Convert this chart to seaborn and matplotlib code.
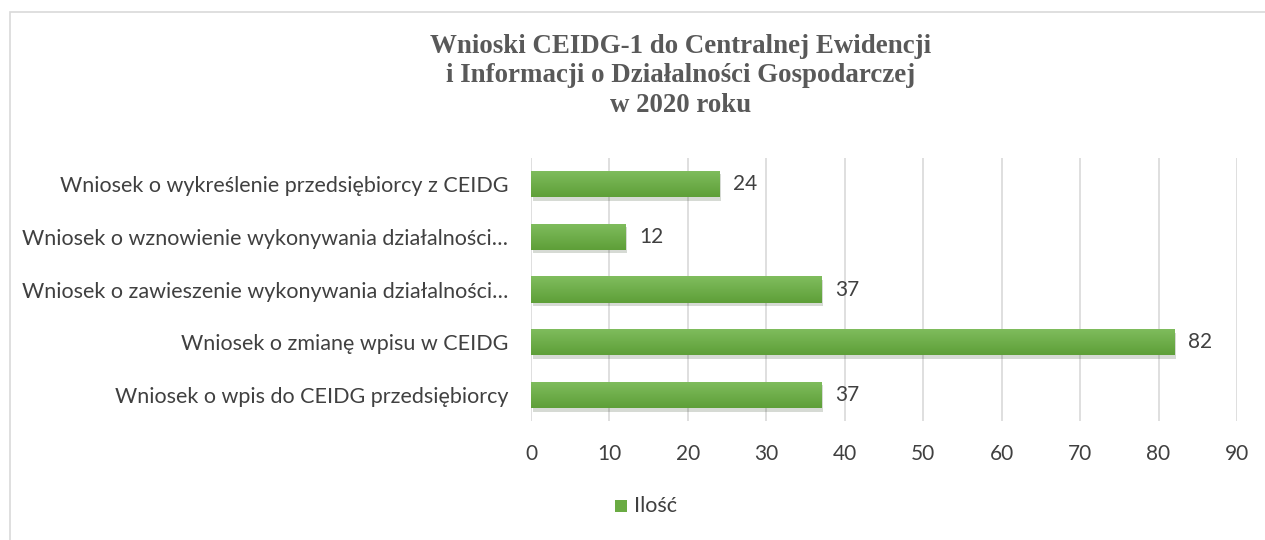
import matplotlib
matplotlib.use("Agg")
import matplotlib.pyplot as plt
import matplotlib.patheffects as pe
from matplotlib.patches import Rectangle
import numpy as np
import seaborn as sns
import pandas as pd

categories = [
    "Wniosek o wykreślenie przedsiębiorcy z CEIDG",
    "Wniosek o wznowienie wykonywania działalności…",
    "Wniosek o zawieszenie wykonywania działalności…",
    "Wniosek o zmianę wpisu w CEIDG",
    "Wniosek o wpis do CEIDG przedsiębiorcy",
]
values = [24, 12, 37, 82, 37]
series_name = "Ilość"
title = "Wnioski CEIDG-1 do Centralnej Ewidencji\ni Informacji o Działalności Gospodarczej\nw 2020 roku"
xticks = [0, 10, 20, 30, 40, 50, 60, 70, 80, 90]

df = pd.DataFrame({"cat": categories, "val": values, "series": series_name})

sns.set_theme(style="white")
plt.rcParams["font.family"] = ["Lato", "DejaVu Sans"]

green = "#6aab43"
text_col = "#404040"

fig = plt.figure(figsize=(12.65, 5.4), dpi=100)
ax = fig.add_axes([531/1265, 1-421.3/540, (1237-531)/1265, (421.3-157.7)/540])

sns.barplot(data=df, x="val", y="cat", hue="series", palette=[green],
            orient="h", width=0.5, ax=ax, legend=False, saturation=1)

ax.set_xlim(0, 90)
ax.set_ylim(len(categories) - 0.5, -0.5)

# vertical gradient (lighter top, darker bottom) clipped to each bar
grad = np.linspace(0, 1, 64).reshape(-1, 1)
cmap = matplotlib.colors.LinearSegmentedColormap.from_list("g", ["#80bd5e", "#5e9f38"])
for p in list(ax.patches):
    p.set_edgecolor("none")
    p.set_path_effects([pe.SimplePatchShadow(offset=(1.5, -2.5), alpha=0.18), pe.Normal()])
    p.set_zorder(3)
    b = p.get_bbox()
    im = ax.imshow(grad, extent=[b.x0, b.x1, b.y1, b.y0], origin="upper", cmap=cmap,
                   aspect="auto", zorder=4, interpolation="bilinear")
    im.set_clip_path(p)

ax.set_xlim(0, 90)
ax.set_ylim(len(categories) - 0.5, -0.5)

for i, v in enumerate(values):
    ax.text(v + 1.75, i, str(v), va="center", ha="left", fontsize=15, color=text_col)

ax.set_xticks(xticks)
ax.set_xticklabels([str(t) for t in xticks], fontsize=15, color=text_col)
ax.tick_params(axis="y", labelsize=15.5, labelcolor=text_col, length=0, pad=16.5)
ax.tick_params(axis="x", length=0, pad=16)
ax.set_xlabel("")
ax.set_ylabel("")
ax.grid(axis="x", color="#d9d9d9", linewidth=1.2, zorder=0)
ax.set_axisbelow(True)
for s in ax.spines.values():
    s.set_visible(False)

fig.text(681/1265, 1-76/540, title, ha="center", va="center", fontsize=19.4,
         fontweight="bold", family=["Liberation Serif", "DejaVu Serif"],
         color="#595959", linespacing=1.26, multialignment="center")

# legend
fig.patches.append(Rectangle((615/1265, 1-512/540), 12/1265, 12/540,
                             transform=fig.transFigure, facecolor=green, edgecolor="none"))
fig.text(634/1265, 1-506/540, series_name, ha="left", va="center", fontsize=15.5, color=text_col)

# chart border
fig.patches.append(Rectangle((10/1265, -0.05), 1.2, 1-12/540+0.05,
                             transform=fig.transFigure, facecolor="none",
                             edgecolor="#d9d9d9", linewidth=1.2))

fig.savefig("out.png", dpi=100, facecolor="white")
